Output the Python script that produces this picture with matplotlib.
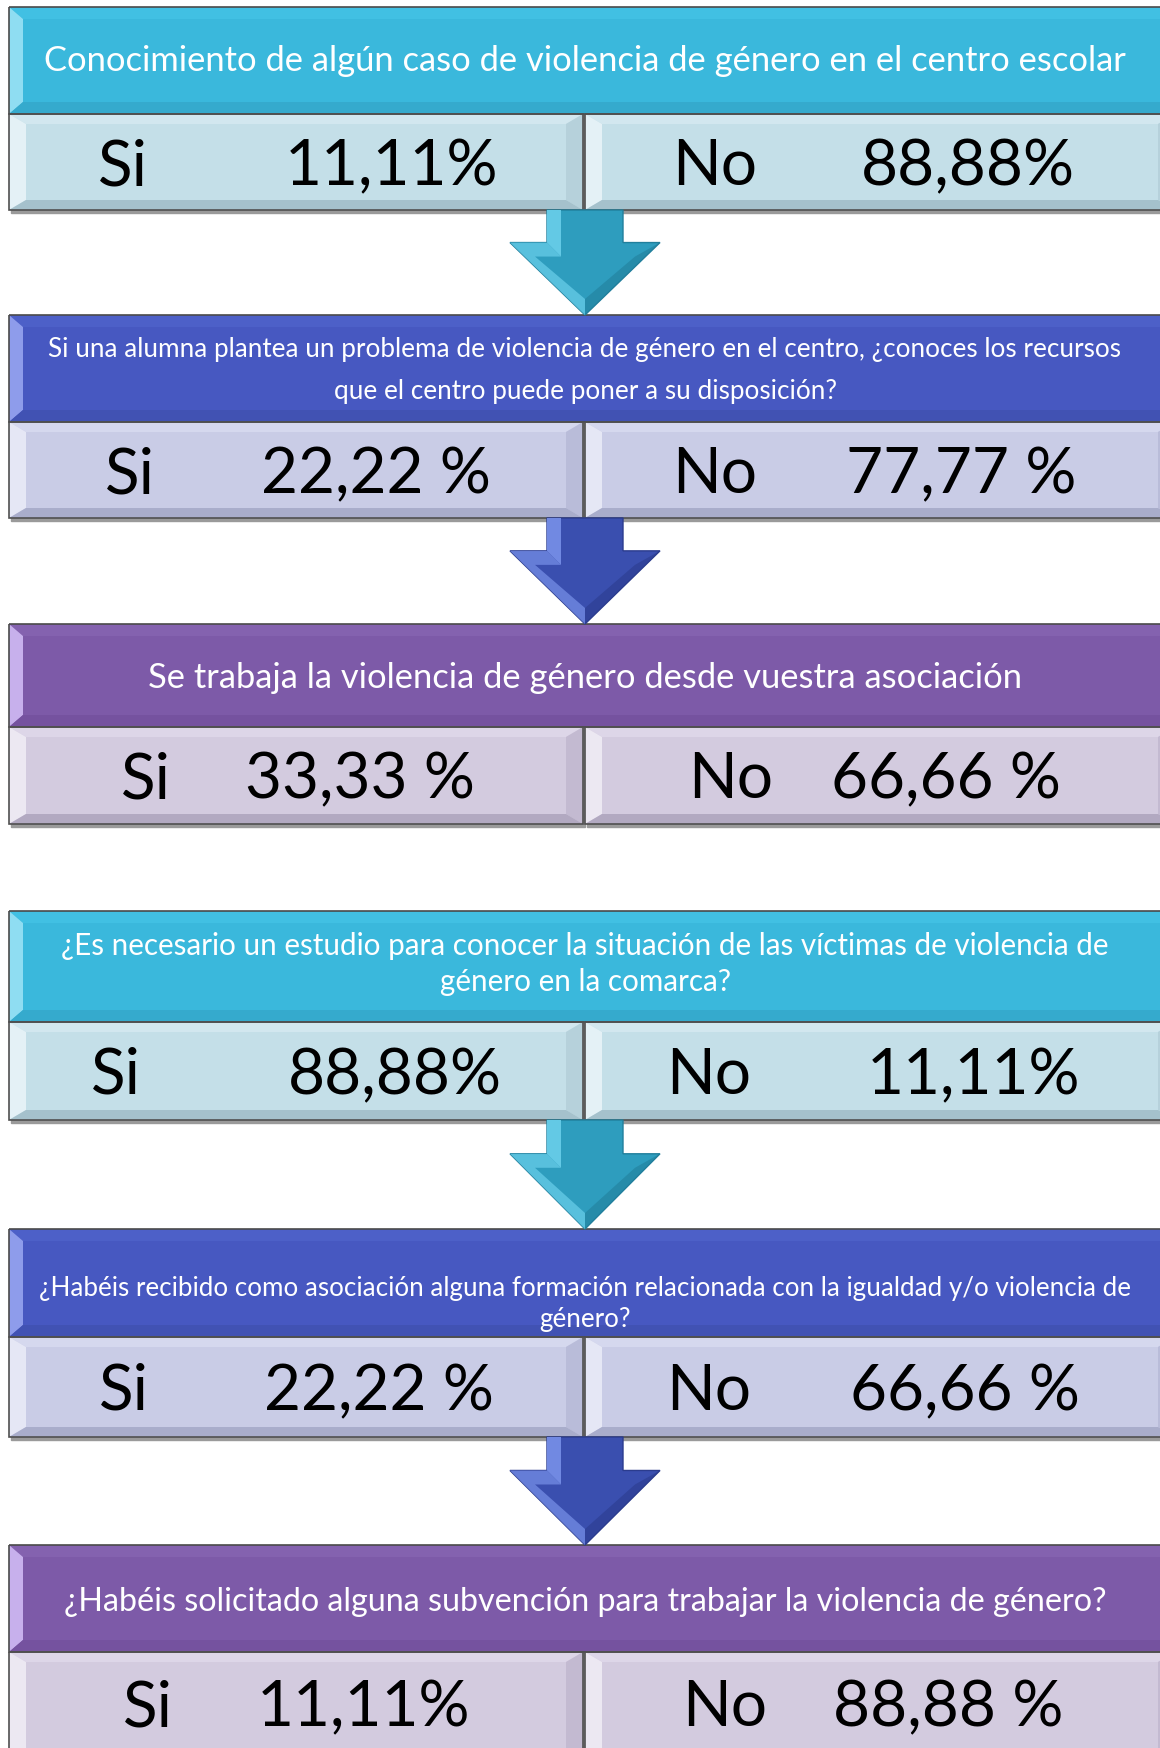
import matplotlib
matplotlib.use("Agg")
import matplotlib.pyplot as plt
from matplotlib.patches import Polygon, Rectangle

plt.rcParams['font.family'] = ['Lato', 'DejaVu Sans']

# encuesta: preguntas y respuestas
preguntas = [
    ["Conocimiento de algún caso de violencia de género en el centro escolar"],
    ["Si una alumna plantea un problema de violencia de género en el centro, ¿conoces los recursos",
     "que el centro puede poner a su disposición?"],
    ["Se trabaja la violencia de género desde vuestra asociación"],
    ["¿Es necesario un estudio para conocer la situación de las víctimas de violencia de",
     "género en la comarca?"],
    ["¿Habéis recibido como asociación alguna formación relacionada con la igualdad y/o violencia de",
     "género?"],
    ["¿Habéis solicitado alguna subvención para trabajar la violencia de género?"],
]
si_vals = ["11,11%", "22,22 %", "33,33 %", "88,88%", "22,22 %", "11,11%"]
no_vals = ["88,88%", "77,77 %", "66,66 %", "11,11%", "66,66 %", "88,88 %"]

# layout (pixels)
W, H = 1160, 1749
header_top = [8, 316, 625, 912, 1230, 1546]
row_top = [115, 423, 728, 1023, 1338, 1653]
row_bot = [211, 519, 825, 1121, 1438, 1760]
title_y = [[61], [349, 391], [678], [946, 982], [1289, 1320], [1602]]
title_w = [1082, 1071, 876, 1051, 1090, 1045]
si_x = [[123, 392], [130, 376], [146, 360], [116, 395], [124, 379], [148, 364]]
no_x = [[715, 968], [715, 961], [731, 946], [709, 973], [709, 965], [725, 948]]
temas = ["cyan", "blue", "purple", "cyan", "blue", "purple"]
flechas = [0, 1, 3, 4]

colores = {
    "cyan": dict(head="#3AB8DC", head_top="#41C0E3", head_left="#8FDDF2", head_bot="#35AACD",
                 row="#C4DFE8", row_top="#D2E7EF", row_left="#E4F1F6", row_right="#B6D1DB",
                 row_bot="#A5C1CC", arrow="#2E9DBE", arrow_hi="#63C9E5", arrow_dk="#217F9C"),
    "blue": dict(head="#4758C1", head_top="#4D60C8", head_left="#8E9CEB", head_bot="#4152B3",
                 row="#C9CCE6", row_top="#D5D8EE", row_left="#E5E7F5", row_right="#B9BCD9",
                 row_bot="#A9ADCB", arrow="#3A4FAF", arrow_hi="#7189E2", arrow_dk="#2B3C8E"),
    "purple": dict(head="#7D5AA8", head_top="#8462AF", head_left="#C7B0EC", head_bot="#75529F",
                   row="#D3CBDF", row_top="#DDD6E8", row_left="#ECE8F2", row_right="#C3BAD1",
                   row_bot="#B2A9C1", arrow="#6A4C95", arrow_hi="#A58BD0", arrow_dk="#553C7B"),
}

fig = plt.figure(figsize=(W / 100, H / 100), dpi=100)
ax = fig.add_axes([0, 0, 1, 1])
ax.set_xlim(0, W)
ax.set_ylim(H, 0)
ax.axis("off")


def bevel(x0, y0, x1, y1, dx, dy, base, top, left, right, bot, edge="#555555"):
    ax.add_patch(Rectangle((x0 + 2, y0 + 3), x1 - x0, y1 - y0, color="#9a9a9a", zorder=1))
    ax.add_patch(Rectangle((x0, y0), x1 - x0, y1 - y0, facecolor=base, edgecolor="none", zorder=2))
    ax.add_patch(Polygon([(x0, y0), (x1, y0), (x1 - dx, y0 + dy), (x0 + dx, y0 + dy)],
                         facecolor=top, edgecolor="none", zorder=3))
    ax.add_patch(Polygon([(x0, y0), (x0 + dx, y0 + dy), (x0 + dx, y1 - dy), (x0, y1)],
                         facecolor=left, edgecolor="none", zorder=3))
    ax.add_patch(Polygon([(x1, y0), (x1 - dx, y0 + dy), (x1 - dx, y1 - dy), (x1, y1)],
                         facecolor=right, edgecolor="none", zorder=3))
    ax.add_patch(Polygon([(x0, y1), (x0 + dx, y1 - dy), (x1 - dx, y1 - dy), (x1, y1)],
                         facecolor=bot, edgecolor="none", zorder=3))
    ax.add_patch(Rectangle((x0, y0), x1 - x0, y1 - y0, facecolor="none", edgecolor=edge,
                           lw=1.2, zorder=4))


def flecha(yt, yb, c):
    cx = 585
    yh = yt + (yb - yt) * 0.31
    ax.add_patch(Polygon([(cx - 38, yt), (cx + 38, yt), (cx + 38, yh), (cx + 75, yh), (cx, yb),
                          (cx - 75, yh), (cx - 38, yh)], facecolor=c["arrow"],
                         edgecolor=c["arrow_dk"], lw=1, zorder=5))
    # facetas del bisel
    ax.add_patch(Polygon([(cx - 38, yt), (cx - 24, yt), (cx - 24, yh + 14), (cx - 38, yh)],
                         facecolor=c["arrow_hi"], edgecolor="none", zorder=6))
    ax.add_patch(Polygon([(cx - 75, yh), (cx - 38, yh), (cx - 24, yh + 14), (cx - 50, yh + 14),
                          (cx, yb - 16), (cx, yb)], facecolor=c["arrow_hi"], edgecolor="none",
                         alpha=0.8, zorder=6))
    ax.add_patch(Polygon([(cx + 75, yh), (cx, yb), (cx, yb - 16), (cx + 50, yh + 14)],
                         facecolor=c["arrow_dk"], edgecolor="none", alpha=0.6, zorder=6))


renderer = fig.canvas.get_renderer()

for i in range(6):
    c = colores[temas[i]]
    # cabecera
    bevel(9, header_top[i], 1175, row_top[i], 14, 12, c["head"], c["head_top"], c["head_left"],
          c["head_bot"], c["head_bot"], edge="#4a4a4a")
    # celdas Si / No
    for x0, x1 in [(9, 583), (585, 1175)]:
        bevel(x0, row_top[i], x1, row_bot[i], 17, 10, c["row"], c["row_top"], c["row_left"],
              c["row_right"], c["row_bot"], edge="#505050")

    # titulo ajustado al ancho
    lines = preguntas[i]
    t = ax.text(585, title_y[i][0], lines[0], color="white", fontsize=20, ha="center",
                va="center", zorder=8)
    w = t.get_window_extent(renderer=renderer).width
    fs = 20 * title_w[i] / w
    t.set_fontsize(fs)
    for ln, yy in zip(lines[1:], title_y[i][1:]):
        ax.text(585, yy, ln, color="white", fontsize=fs, ha="center", va="center", zorder=8)

    yb = (row_top[i] + min(row_bot[i], H)) / 2 + 22
    if i == 5:
        yb = (row_top[i] + 1760) / 2 + 20
    ax.text(si_x[i][0], yb, "Si", fontsize=46, ha="center", va="baseline", zorder=8)
    ax.text(si_x[i][1], yb, si_vals[i], fontsize=46, ha="center", va="baseline", zorder=8)
    ax.text(no_x[i][0], yb, "No", fontsize=46, ha="center", va="baseline", zorder=8)
    ax.text(no_x[i][1], yb, no_vals[i], fontsize=46, ha="center", va="baseline", zorder=8)

for i in flechas:
    flecha(row_bot[i], header_top[i + 1], colores[temas[i]])

fig.savefig("out.png", dpi=100)
